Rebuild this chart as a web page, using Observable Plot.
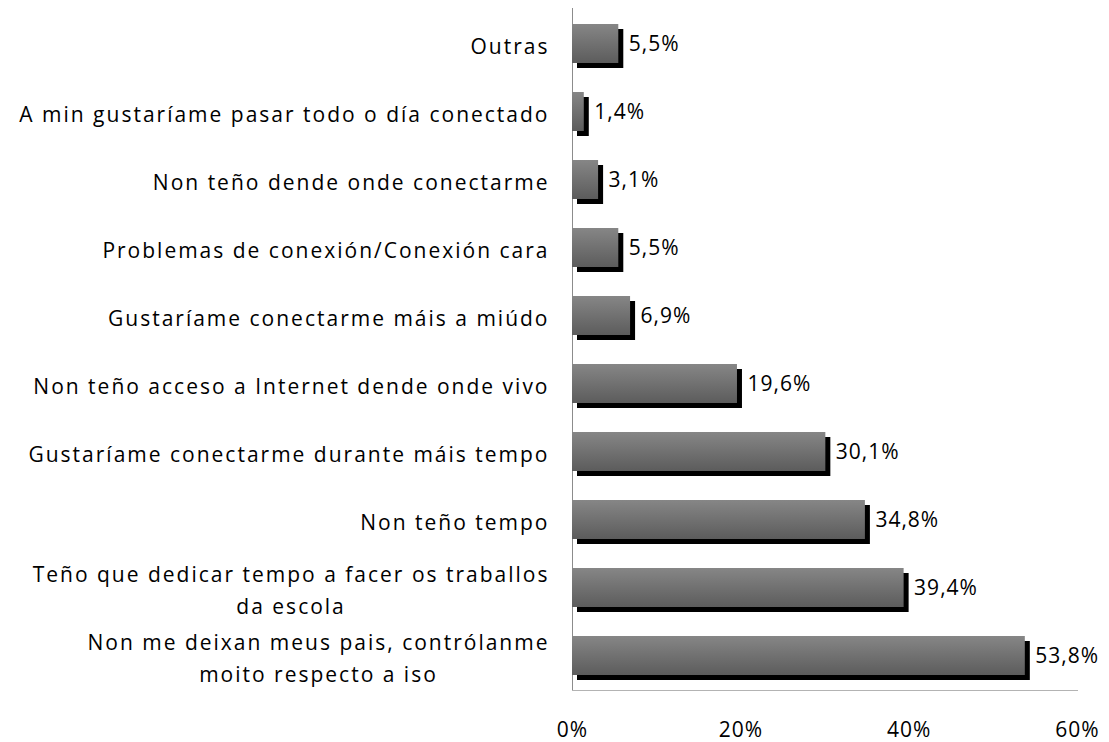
<!DOCTYPE html>
<html>
<head>
<meta charset="utf-8">
<script src="https://cdn.jsdelivr.net/npm/d3@7"></script>
<script src="https://cdn.jsdelivr.net/npm/@observablehq/plot@0.6"></script>
<style>
  html, body { margin: 0; padding: 0; background: #fff; }
  #chart { width: 1109px; height: 742px; }
</style>
</head>
<body>
<div id="chart"></div>
<script>
const categories = [
  "Outras",
  "A min gustaríame pasar todo o día conectado",
  "Non teño dende onde conectarme",
  "Problemas de conexión/Conexión cara",
  "Gustaríame conectarme máis a miúdo",
  "Non teño acceso a Internet dende onde vivo",
  "Gustaríame conectarme durante máis tempo",
  "Non teño tempo",
  "Teño que dedicar tempo a facer os traballos\nda escola",
  "Non me deixan meus pais, contrólanme\nmoito respecto a iso"
];
const values = [5.5, 1.4, 3.1, 5.5, 6.9, 19.6, 30.1, 34.8, 39.4, 53.8];
const xTicks = [0, 20, 40, 60];

const data = categories.map((c, i) => ({category: c, value: values[i]}));
const fmt = v => v.toFixed(1).replace(".", ",") + "%";

const plot = Plot.plot({
  width: 1109,
  height: 742,
  marginLeft: 572,
  marginRight: 32,
  marginTop: 8,
  marginBottom: 52,
  style: {fontFamily: "'Open Sans', sans-serif", fontSize: "21px", color: "#000", background: "#fff"},
  x: {domain: [0, 60], label: null},
  y: {domain: categories, paddingInner: 0.43, paddingOuter: 0.215, label: null},
  marks: [
    Plot.frame({anchor: "bottom", stroke: "#b3b3b3"}),
    Plot.ruleX([0], {stroke: "#8c8c8c"}),
    Plot.barX(data, {x: "value", y: "category", fill: "#000", dx: 5, dy: 5}),
    Plot.barX(data, {x: "value", y: "category", fill: "url(#barGrad)"}),
    Plot.text(data, {x: "value", y: "category", text: d => fmt(d.value), textAnchor: "start", dx: 10, fill: "#000", fontSize: 21}),
    Plot.axisX({ticks: xTicks, tickFormat: d => d + "%", tickSize: 0, tickPadding: 32, fill: "#000", fontSize: 21, label: null}),
    Plot.axisY({tickSize: 0, tickPadding: 23, fill: "#000", fontSize: 21, lineHeight: 1.5, label: null})
  ]
});

document.getElementById("chart").appendChild(plot);

const svg = d3.select(plot);

// letter spacing like the reference
svg.selectAll('g[aria-label="y-axis tick label"] text').style("letter-spacing", "2px");
svg.selectAll('g[aria-label="text"] text').style("letter-spacing", "1px");
svg.selectAll('g[aria-label="x-axis tick label"] text').style("letter-spacing", "1px");

// gradient for bars
const defs = svg.insert("defs", ":first-child");
const grad = defs.append("linearGradient")
  .attr("id", "barGrad").attr("x1", 0).attr("y1", 0).attr("x2", 0).attr("y2", 1);
grad.append("stop").attr("offset", "0%").attr("stop-color", "#868686");
grad.append("stop").attr("offset", "100%").attr("stop-color", "#5c5c5c");

// center the lines of multi-line y tick labels
svg.selectAll('g[aria-label="y-axis tick label"] text').each(function() {
  const spans = this.querySelectorAll("tspan");
  if (spans.length > 1) {
    let w = 0;
    spans.forEach(s => { w = Math.max(w, s.getComputedTextLength()); });
    this.setAttribute("text-anchor", "middle");
    spans.forEach(s => s.setAttribute("x", -w / 2));
  }
});
</script>
</body>
</html>
